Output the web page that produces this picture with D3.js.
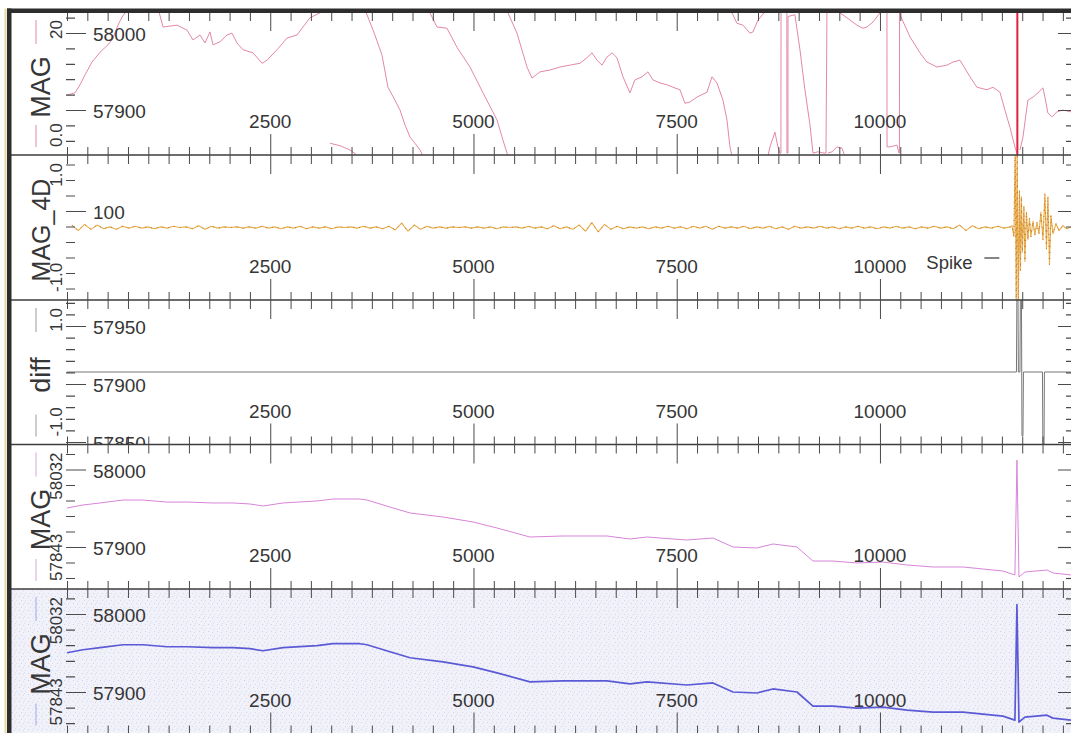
<!DOCTYPE html>
<html><head><meta charset="utf-8">
<script src="https://cdn.jsdelivr.net/npm/d3@7"></script>
<style>
html,body{margin:0;padding:0;background:#fff;}
svg{display:block;}
text{font-family:"Liberation Sans",Arial,sans-serif;fill:#363636;}
</style></head><body>
<svg id="chart" width="1071" height="733"></svg>
<script>
// ---------------- data ----------------
// fiducial (distance) axis labels
const fidTicks = [2500, 5000, 7500, 10000];
const fidMinorStep = 250;
const spikeFid = 11690;

const channelNames = ["MAG", "MAG_4D", "diff", "MAG", "MAG"];
const rangeLabels = [["20", "0.0"], ["1.0", "-1.0"], ["1.0", "-1.0"], ["58032", "57843"], ["58032", "57843"]];
const leftLabelValues = [[57900, 58000], [100], [57850, 57900, 57950], [57900, 58000], [57900, 58000]];
const leftTickSteps = [20, 20, 10, 20, 20];

// MAG at high gain, folded into a 20 nT window: [fid, nT]; null = pen lift
const magWrapped = [
  [0,7.6],[98,8.0],[160,9.3],[221,10.9],[308,13.0],[406,14.6],[504,15.8],[566,16.9],[627,19.0],[677,20.3],[713,21.0],[800,21.2],[898,21.2],[1021,21.6],[1119,21.8],
  [1181,18.7],[1353,19.0],[1476,18.2],[1550,16.6],[1636,17.4],[1697,16.1],[1759,17.9],[1796,15.8],[1882,16.3],[1968,17.4],[2030,17.7],[2091,16.1],[2165,15.0],[2288,14.5],
  [2399,12.8],[2460,13.3],[2583,15.0],[2706,16.9],[2829,17.4],[2903,18.7],[2989,20.2],[3112,21.0],[3186,21.5],
  null,
  [3235,-0.2],[3358,-0.6],[3481,-1.3],[3555,-2.0],
  null,
  [3678,21.1],[3702,20.3],[3788,17.4],[3875,14.1],[3948,8.9],[4034,6.8],[4096,5.2],[4157,2.8],[4219,0.8],[4280,-0.2],[4342,-1.3],[4379,-2.3],
  null,
  [4440,21.5],[4465,21.0],[4551,18.7],[4674,18.5],[4797,15.4],[4957,12.2],[5117,8.0],[5289,3.6],[5363,0.3],[5412,-1.8],[5437,-2.6],
  null,
  [5412,21.6],[5424,21.0],[5535,17.7],[5658,12.2],[5720,10.4],[5818,11.4],[5941,11.7],[6064,12.2],[6187,12.5],[6310,12.8],[6396,13.7],[6458,14.5],[6519,13.3],
  [6581,12.5],[6642,13.8],[6704,14.5],[6765,13.7],[6839,10.6],[6925,8.0],[6986,10.1],[7073,10.6],[7146,11.4],[7208,10.1],[7294,9.6],[7380,9.3],[7454,8.9],[7540,8.5],
  [7601,6.3],[7663,6.5],[7749,7.3],[7872,8.1],[7934,10.6],[7995,9.6],[8069,6.8],[8118,3.6],[8155,-0.8],[8180,-2.3],
  null,
  [8167,21.6],[8180,21.0],[8241,19.3],[8315,19.0],[8401,17.7],[8438,17.9],[8499,19.8],[8561,20.8],[8598,21.5],
  null,
  [8622,-2.3],[8647,-0.8],[8708,1.6],[8745,-0.8],[8770,-1.8],[8782,-1.8],[8783,21.3],[8844,21.3],[8855,21.3],[8856,-1.8],[8868,-1.8],[8869,20.4],
  [8954,20.7],[9016,15.0],[9077,8.5],[9139,2.8],[9176,-1.8],[9237,-1.6],[9311,-1.8],[9336,-1.8],[9348,21.3],[9380,21.5],
  null,
  [9360,-1.8],[9410,-1.6],[9471,-0.8],[9532,-1.0],[9560,-2.0],
  null,
  [9500,21.5],[9508,21.0],[9594,20.2],[9717,19.0],[9791,18.5],[9840,18.7],[9914,19.5],[10000,21.0],[10025,21.5],[10086,21.3],[10087,-0.8],[10123,-0.8],
  [10209,-0.5],[10234,-1.8],[10240,-1.8],[10241,21.0],[10246,20.7],[10369,17.1],[10492,14.5],[10578,13.0],[10701,12.2],[10824,12.5],[10898,13.0],[10984,13.3],
  [11021,12.5],[11107,10.6],[11193,8.9],[11316,8.5],[11390,8.9],[11476,8.1],[11537,5.2],[11599,2.4],[11660,-0.8],[11685,-1.8],
  null,
  [11722,-1.3],[11759,0.8],[11808,5.7],[11820,6.8],[11882,7.3],[11943,8.0],[12005,8.8],[12029,7.3],[12066,4.7],[12116,4.1],[12177,4.9],[12251,5.2],[12349,4.9]
];

// fourth difference of MAG, regularly sampled
const mag4dStart = 60, mag4dStep = 78;
const mag4d = [
  0.04,-0.05,0.05,-0.03,0.04, -0.02,0.01,-0.03,0.02,-0.01, 0.02,-0.01,0.01,-0.02,0.01, -0.01,0.02,0.00,0.01,-0.02,
  0.03,-0.03,0.02,-0.01,0.01, 0.00,0.01,-0.01,0.01,-0.01, 0.02,-0.01,0.01,-0.02,0.01, -0.01,0.02,-0.02,0.01,-0.01,
  0.01,-0.02,0.01,0.00,0.01, -0.01,0.02,-0.01,0.01,-0.02, 0.02,-0.04,0.07,-0.06,0.04, -0.03,0.02,-0.01,0.01,-0.01,
  0.01,0.00,0.01,-0.01,0.01, -0.01,0.01,-0.02,0.01,0.00, 0.01,-0.01,0.02,-0.01,0.01, -0.02,0.03,-0.02,0.01,-0.03,
  0.04,-0.06,0.08,-0.07,0.05, -0.03,0.02,-0.02,0.01,-0.01, 0.01,-0.02,0.01,-0.01,0.02, -0.01,0.01,-0.02,0.02,-0.01,
  0.02,-0.03,0.02,-0.01,0.01, -0.01,0.02,-0.02,0.01,-0.01, 0.02,-0.02,0.01,-0.03,0.02, -0.01,0.01,-0.01,0.02,-0.01,
  0.01,-0.02,0.01,-0.01,0.02, -0.01,0.01,-0.02,0.01,-0.01, 0.02,-0.01,0.01,-0.02,0.01, -0.01,0.02,-0.01,0.01,-0.02,
  0.04,-0.05,0.03,-0.02,0.01, -0.01,0.02,-0.01,0.01
];
// MAG_4D around the spike: [fid, value]
const mag4dSpike = [
  [11624,0.03],[11648,-0.15],[11664,1.4],[11676,-1.4],[11688,1.4],[11701,-1.4],[11716,0.6],[11728,-0.7],[11740,0.5],[11752,-0.4],
  [11771,0.35],[11783,-0.55],[11802,0.25],[11820,-0.2],[11839,0.15],[11857,-0.15],[11882,0.1],[11906,-0.12],[11931,0.08],[11956,-0.1],
  [11980,0.25],[12005,-0.2],[12029,0.55],[12048,-0.35],[12066,0.5],[12085,-0.6],[12103,0.2],[12128,-0.1],[12165,0.06],[12202,-0.05],
  [12251,0.03],[12300,-0.02],[12349,0.01]
];

// diff channel: [fid, value]
const diff = [
  [0,0],[11679,0],[11685,1.5],[11697,1.5],[11703,0],[11722,0],[11728,1.5],[11740,1.5],[11747,-1.1],[11759,-1.1],[11765,0],
  [11999,0],[12005,-1.5],[12017,-1.5],[12023,0],[12349,0]
];

// MAG total field (nT): [fid, nT]
const mag = [
  [0,57950.3],[197,57954.2],[406,57956.8],[689,57960.6],[935,57960.6],[1230,57958.0],[1476,57958.0],[1796,57956.8],[2042,57956.8],
  [2251,57955.5],[2411,57952.9],[2657,57956.8],[3075,57959.4],[3272,57961.9],[3604,57961.9],[3690,57960.6],[3973,57951.6],[4219,57943.9],
  [4625,57938.7],[4994,57932.3],[5289,57924.5],[5695,57912.9],[6101,57914.2],[6642,57914.2],[6925,57910.3],[7134,57912.9],[7626,57909.0],
  [7946,57911.6],[8192,57900.0],[8487,57898.7],[8684,57903.9],[8979,57900.0],[9176,57881.9],[9422,57881.9],[9717,57879.4],[10037,57880.6],
  [10332,57876.8],[10652,57874.2],[11021,57874.2],[11267,57871.6],[11513,57869.0],[11660,57863.9],[11685,58012.0],[11710,57861.3],
  [11783,57867.7],[12054,57870.3],[12128,57866.5],[12349,57863.9]
];

// ---------------- layout ----------------
const svg = d3.select("#chart");
const W = 1071, H = 733;
const xLeft = 67, xRight = 1071;
const x = d3.scaleLinear().domain([0, 12350]).range([xLeft, xRight]);
const bands = [[12, 155], [155, 300], [300, 444.5], [444.5, 589], [589, 733.5]];
const leftRanges = [[110, 33], [288.5, 211], [442, 326], [547, 469.5], [692, 614]];
const leftDomains = [[57900, 58000], [0, 100], [57850, 57950], [57900, 58000], [57900, 58000]];

// trace scales
const yWrap = d3.scaleLinear().domain([0, 20]).range([142, 19]);
const y4d = d3.scaleLinear().domain([-1, 1]).range([289, 166]);
const yDiff = d3.scaleLinear().domain([-1, 1]).range([430, 314]);
const yMag4 = d3.scaleLinear().domain(leftDomains[3]).range(leftRanges[3]);
const yMag5 = d3.scaleLinear().domain(leftDomains[4]).range(leftRanges[4]);

const defs = svg.append("defs");
bands.forEach((b, i) => {
  defs.append("clipPath").attr("id", "clip" + i)
    .append("rect").attr("x", 11.5).attr("y", b[0]).attr("width", W - 11.5).attr("height", b[1] - b[0]);
});

// lavender speckle behind the last panel
const pat = defs.append("pattern").attr("id", "speckle").attr("patternUnits", "userSpaceOnUse")
  .attr("width", 9).attr("height", 7);
pat.append("rect").attr("width", 9).attr("height", 7).attr("fill", "#f1f1fa");
[[1, 1, "#cfd0f0"], [5, 2, "#dcd4ee"], [3, 5, "#d2d4f2"], [7, 5, "#e2dcf0"], [6, 0, "#d8dbf4"]].forEach(d => {
  pat.append("rect").attr("x", d[0]).attr("y", d[1]).attr("width", 1).attr("height", 1).attr("fill", d[2]);
});
svg.append("rect").attr("x", 11).attr("y", bands[4][0]).attr("width", W - 11).attr("height", H - bands[4][0])
  .attr("fill", "url(#speckle)");

// ---------------- traces ----------------
const traces = svg.append("g");
function drawLine(data, yScale, panel, color, width, dash) {
  return traces.append("path")
    .datum(data)
    .attr("clip-path", `url(#clip${panel})`)
    .attr("fill", "none")
    .attr("stroke", color)
    .attr("stroke-width", width)
    .attr("stroke-dasharray", dash || null)
    .attr("stroke-linejoin", "round")
    .attr("d", d3.line().defined(d => d !== null).x(d => x(d[0])).y(d => yScale(d[1])));
}
drawLine(magWrapped, yWrap, 0, "#e07a98", 0.9);
// spike in the folded view fills the whole window
traces.append("line").attr("clip-path", "url(#clip0)")
  .attr("x1", x(spikeFid)).attr("x2", x(spikeFid)).attr("y1", bands[0][0]).attr("y2", bands[0][1])
  .attr("stroke", "#e0203c").attr("stroke-width", 2);

const mag4dSeries = mag4d.map((v, i) => [mag4dStart + i * mag4dStep, v]).concat(mag4dSpike);
drawLine(mag4dSeries, y4d, 1, "#e6b04a", 1.1);
drawLine(mag4dSeries, y4d, 1, "#c9603a", 0.9, "1 5");
drawLine(diff, yDiff, 2, "#777", 1);
drawLine(mag, yMag4, 3, "#d884d8", 1);
drawLine(mag, yMag5, 4, "#5a5ad6", 1.7);

// ---------------- frame and axes ----------------
const axisColor = "#4a4a4a";
const frame = svg.append("g");
// separators
bands.slice(1).forEach(b => {
  frame.append("line").attr("x1", 9).attr("x2", W).attr("y1", b[0]).attr("y2", b[0])
    .attr("stroke", "#3c3c3c").attr("stroke-width", 1.6);
});
frame.append("rect").attr("x", 7).attr("y", 8.5).attr("width", W - 7).attr("height", 4.5).attr("fill", "#2d2d2d");
frame.append("rect").attr("x", 7).attr("y", 8.5).attr("width", 4.5).attr("height", H).attr("fill", "#2d2d2d");
frame.append("rect").attr("x", 4.5).attr("y", 8.5).attr("width", 2).attr("height", H).attr("fill", "#e6dc9a");

// fiducial ticks along every boundary
const minorFid = d3.range(0, 12350, fidMinorStep).filter(v => !fidTicks.includes(v));
function fidAxis(yPos, dir, minorLen, majorLen) {
  const make = dir === "down" ? d3.axisBottom : d3.axisTop;
  const gMinor = frame.append("g").attr("transform", `translate(0,${yPos})`)
    .call(make(x).tickValues(minorFid).tickSize(minorLen).tickFormat(""));
  const gMajor = frame.append("g").attr("transform", `translate(0,${yPos})`)
    .call(make(x).tickValues(fidTicks).tickSize(majorLen).tickFormat(""));
  [gMinor, gMajor].forEach(g => {
    g.select(".domain").remove();
    g.selectAll(".tick line").attr("stroke", axisColor).attr("stroke-width", 1);
  });
}
fidAxis(13, "down", 8, 18);
bands.slice(1).forEach(b => {
  fidAxis(b[0], "down", 9, 19);
  fidAxis(b[0], "up", 8, 21);
});
fidAxis(733.5, "up", 8, 21);

// fiducial labels inside each panel
bands.forEach(b => {
  frame.selectAll(null).data(fidTicks).enter().append("text")
    .attr("x", d => x(d)).attr("y", b[1] - 27)
    .attr("text-anchor", "middle").attr("font-size", 19)
    .text(d => d);
});

// value axes, left (labelled) and right (ticks only)
bands.forEach((b, i) => {
  const s = d3.scaleLinear().domain(leftDomains[i]).range(leftRanges[i]);
  const lo = Math.min(s.invert(b[0]), s.invert(b[1]));
  const hi = Math.max(s.invert(b[0]), s.invert(b[1]));
  const step = leftTickSteps[i];
  const all = d3.range(Math.ceil(lo / step) * step, hi, step);
  const minor = all.filter(v => !leftLabelValues[i].includes(v));
  const g = frame.append("g").attr("clip-path", `url(#clip${i})`);

  const lMinor = g.append("g").attr("transform", "translate(66,0)")
    .call(d3.axisRight(s).tickValues(minor).tickSize(9).tickFormat(""));
  const lMajor = g.append("g").attr("transform", "translate(66,0)")
    .call(d3.axisRight(s).tickValues(leftLabelValues[i]).tickSize(20).tickPadding(7).tickFormat(d3.format("d")));
  const rMinor = g.append("g").attr("transform", `translate(${W},0)`)
    .call(d3.axisLeft(s).tickValues(minor).tickSize(5).tickFormat(""));
  const rMajor = g.append("g").attr("transform", `translate(${W},0)`)
    .call(d3.axisLeft(s).tickValues(leftLabelValues[i]).tickSize(13).tickFormat(""));
  [lMinor, lMajor, rMinor, rMajor].forEach(a => {
    a.select(".domain").remove();
    a.selectAll(".tick line").attr("stroke", axisColor).attr("stroke-width", 1.2);
  });
  lMajor.attr("font-size", null).attr("font-family", null);
  lMajor.selectAll(".tick text").attr("font-size", 19).attr("fill", "#363636").attr("dy", "0.42em");

  // channel name and its display range, written vertically
  const [top, bottom] = b;
  const labels = g.append("g");
  labels.append("text")
    .attr("transform", `translate(41,${top + 75}) rotate(-90)`)
    .attr("text-anchor", "middle").attr("dominant-baseline", "central")
    .attr("font-size", i === 1 ? 25 : 27)
    .text(channelNames[i]);
  labels.append("text")
    .attr("transform", `translate(56,${top + 8}) rotate(-90)`)
    .attr("text-anchor", "end").attr("dominant-baseline", "central")
    .attr("font-size", 17).text(rangeLabels[i][0]);
  labels.append("text")
    .attr("transform", `translate(56,${bottom - 8}) rotate(-90)`)
    .attr("text-anchor", "start").attr("dominant-baseline", "central")
    .attr("font-size", 17).text(rangeLabels[i][1]);
});

// line-style samples beside the channel names
const legendColors = ["#e58a9c", null, "#9a9a9a", "#d9a6da", "#a2a6e2"];
bands.forEach((b, i) => {
  if (!legendColors[i]) return;
  [[b[0] + 8, b[0] + 32], [b[1] - 30, b[1] - 8]].forEach(seg => {
    frame.append("line").attr("x1", 36).attr("x2", 36).attr("y1", seg[0]).attr("y2", seg[1])
      .attr("stroke", legendColors[i]).attr("stroke-width", 1);
  });
});

// spike annotation
const sx = x(spikeFid);
frame.append("text").attr("x", sx - 91).attr("y", 269).attr("font-size", 18.5).text("Spike");
frame.append("line").attr("x1", sx - 33).attr("x2", sx - 18).attr("y1", 258).attr("y2", 258)
  .attr("stroke", "#363636").attr("stroke-width", 1.2);
</script>
</body></html>
